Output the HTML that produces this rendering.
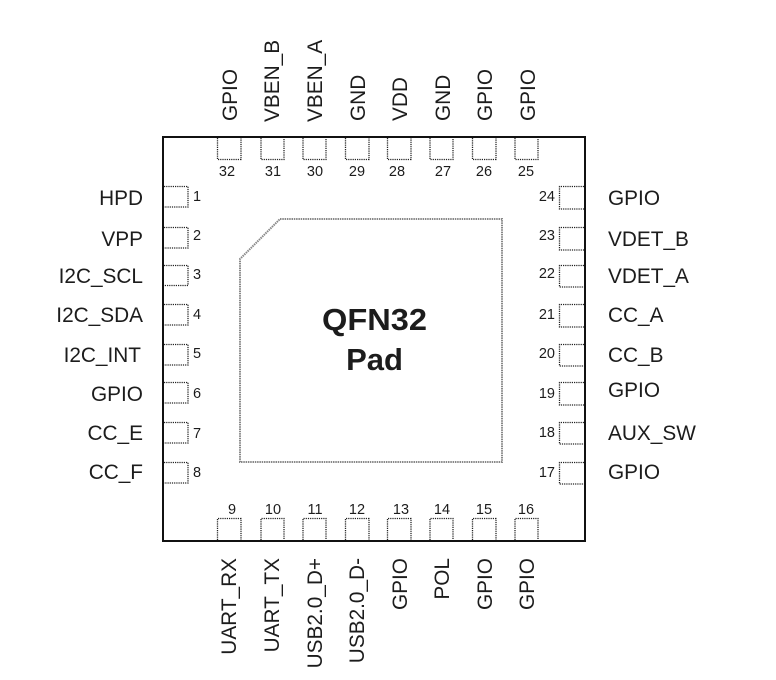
<!DOCTYPE html>
<html><head><meta charset="utf-8"><style>
html,body{margin:0;padding:0;background:#fff}
svg{display:block}
text{font-family:"Liberation Sans",sans-serif;fill:#1c1c1c}
.l{font-size:20.8px}.n{font-size:14.5px}
.e{text-anchor:end}.m{text-anchor:middle}
.p{fill:none;stroke:#222;stroke-width:1.3;stroke-dasharray:1.2 1}
</style></head><body>
<svg width="776" height="680" viewBox="0 0 776 680" xmlns="http://www.w3.org/2000/svg">
<rect width="776" height="680" fill="#fff"/>
<rect x="163" y="137" width="422" height="404" fill="none" stroke="#111" stroke-width="2"/>
<polygon points="280,219 502,219 502,462 240,462 240,259" fill="none" stroke="#888" stroke-width="2" stroke-dasharray="1.5 0.8"/>
<text x="374.5" y="330" class="m" style="font-size:31px;font-weight:bold" textLength="105" lengthAdjust="spacingAndGlyphs">QFN32</text>
<text x="374.5" y="370" class="m" style="font-size:31px;font-weight:bold">Pad</text>

<!-- left pads -->
<path class="p" d="M164 186.5H188V207H164M164 227.5H188V248H164M164 265.5H188V285.5H164M164 304.5H188V325H164M164 344.5H188V365H164M164 382.5H188V403H164M164 422.5H188V443H164M164 462.5H188V483H164"/>
<!-- right pads -->
<path class="p" d="M584 186.5H559.5V209H584M584 227.5H559.5V250H584M584 265.5H559.5V287H584M584 304.5H559.5V327H584M584 344.5H559.5V366H584M584 382.5H559.5V405H584M584 422.5H559.5V444H584M584 462.5H559.5V484H584"/>
<!-- top pads -->
<path class="p" d="M217.5 138V159.5H241V138M261 138V159.5H284V138M303 138V159.5H326V138M345.5 138V159.5H369V138M387.5 138V159.5H411V138M430 138V159.5H453V138M472.5 138V159.5H496V138M515 138V159.5H538V138"/>
<!-- bottom pads -->
<path class="p" d="M217.5 540V518.5H241V540M261 540V518.5H284V540M303 540V518.5H326V540M345.5 540V518.5H369V540M387.5 540V518.5H411V540M430 540V518.5H453V540M472.5 540V518.5H496V540M515 540V518.5H538V540"/>

<!-- left labels -->
<text class="l e" x="143" y="205">HPD</text>
<text class="l e" x="143" y="246">VPP</text>
<text class="l e" x="143" y="283">I2C_SCL</text>
<text class="l e" x="143" y="322">I2C_SDA</text>
<text class="l e" x="141" y="362">I2C_INT</text>
<text class="l e" x="143" y="401">GPIO</text>
<text class="l e" x="143" y="440">CC_E</text>
<text class="l e" x="143" y="479">CC_F</text>
<!-- left numbers -->
<text class="n" x="193" y="201">1</text>
<text class="n" x="193" y="240">2</text>
<text class="n" x="193" y="279">3</text>
<text class="n" x="193" y="319">4</text>
<text class="n" x="193" y="358">5</text>
<text class="n" x="193" y="398">6</text>
<text class="n" x="193" y="438">7</text>
<text class="n" x="193" y="477">8</text>

<!-- right labels -->
<text class="l" x="608" y="205">GPIO</text>
<text class="l" x="608" y="246">VDET_B</text>
<text class="l" x="608" y="283">VDET_A</text>
<text class="l" x="608" y="322">CC_A</text>
<text class="l" x="608" y="362">CC_B</text>
<text class="l" x="608" y="397">GPIO</text>
<text class="l" x="608" y="440">AUX_SW</text>
<text class="l" x="608" y="479">GPIO</text>
<!-- right numbers -->
<text class="n e" x="555" y="201">24</text>
<text class="n e" x="555" y="240">23</text>
<text class="n e" x="555" y="278">22</text>
<text class="n e" x="555" y="319">21</text>
<text class="n e" x="555" y="358">20</text>
<text class="n e" x="555" y="398">19</text>
<text class="n e" x="555" y="437">18</text>
<text class="n e" x="555" y="477">17</text>

<!-- top labels -->
<text class="l" transform="translate(237 121) rotate(-90)">GPIO</text>
<text class="l" transform="translate(279 122) rotate(-90)">VBEN_B</text>
<text class="l" transform="translate(322 122) rotate(-90)">VBEN_A</text>
<text class="l" transform="translate(365 121) rotate(-90)">GND</text>
<text class="l" transform="translate(407 121) rotate(-90)">VDD</text>
<text class="l" transform="translate(450 121) rotate(-90)">GND</text>
<text class="l" transform="translate(492 121) rotate(-90)">GPIO</text>
<text class="l" transform="translate(535 121) rotate(-90)">GPIO</text>
<!-- top numbers -->
<text class="n m" x="227" y="176">32</text>
<text class="n m" x="273" y="176">31</text>
<text class="n m" x="315" y="176">30</text>
<text class="n m" x="357" y="176">29</text>
<text class="n m" x="397" y="176">28</text>
<text class="n m" x="443" y="176">27</text>
<text class="n m" x="484" y="176">26</text>
<text class="n m" x="526" y="176">25</text>

<!-- bottom labels -->
<text class="l e" transform="translate(236 558) rotate(-90)">UART_RX</text>
<text class="l e" transform="translate(279 558) rotate(-90)">UART_TX</text>
<text class="l e" transform="translate(322 558) rotate(-90)">USB2.0_D+</text>
<text class="l e" transform="translate(364 558) rotate(-90)">USB2.0_D-</text>
<text class="l e" transform="translate(407 558) rotate(-90)">GPIO</text>
<text class="l e" transform="translate(449 558) rotate(-90)">POL</text>
<text class="l e" transform="translate(492 558) rotate(-90)">GPIO</text>
<text class="l e" transform="translate(534 558) rotate(-90)">GPIO</text>
<!-- bottom numbers -->
<text class="n m" x="232" y="514">9</text>
<text class="n m" x="273" y="514">10</text>
<text class="n m" x="315" y="514">11</text>
<text class="n m" x="357" y="514">12</text>
<text class="n m" x="401" y="514">13</text>
<text class="n m" x="442" y="514">14</text>
<text class="n m" x="484" y="514">15</text>
<text class="n m" x="526" y="514">16</text>
</svg>
</body></html>
